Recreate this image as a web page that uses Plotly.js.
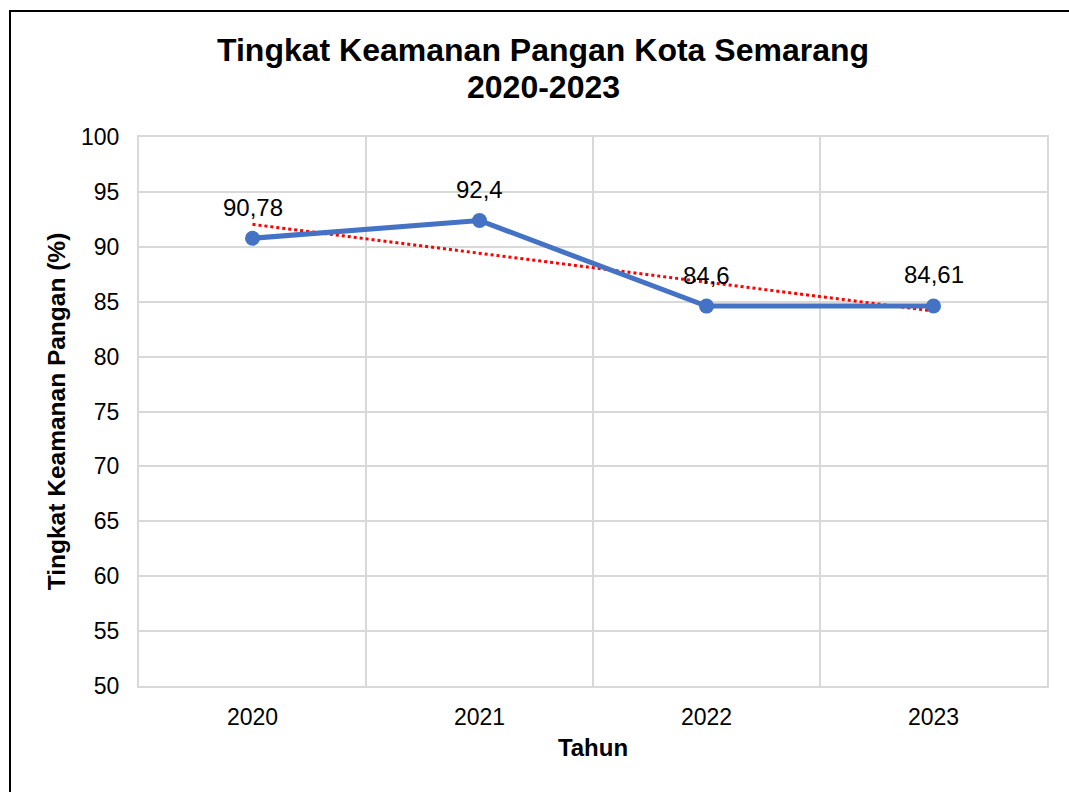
<!DOCTYPE html>
<html>
<head>
<meta charset="utf-8">
<script src="https://cdn.plot.ly/plotly-3.0.1.min.js"></script>
<style>
html,body{margin:0;padding:0;background:#fff;}
#wrap{position:relative;width:1069px;height:792px;overflow:hidden;}
#chart{position:absolute;left:0;top:0;width:1069px;height:792px;}
#frame{position:absolute;left:9px;top:10px;width:1200px;height:900px;border-left:2px solid #000;border-top:2px solid #000;pointer-events:none;}
</style>
</head>
<body>
<div id="wrap"><div id="chart"></div><div id="frame"></div></div>
<script>
const years = ['2020', '2021', '2022', '2023'];
const values = [90.78, 92.4, 84.6, 84.61];
const yTicks = [50, 55, 60, 65, 70, 75, 80, 85, 90, 95, 100];
const titleLines = ['Tingkat Keamanan Pangan Kota Semarang', '2020-2023'];

// linear trendline (least squares) computed from the data
const n = values.length;
const xs = values.map((_, i) => i + 1);
const mx = xs.reduce((a, b) => a + b, 0) / n;
const my = values.reduce((a, b) => a + b, 0) / n;
let sxy = 0, sxx = 0;
xs.forEach((x, i) => { sxy += (x - mx) * (values[i] - my); sxx += (x - mx) * (x - mx); });
const slope = sxy / sxx;
const trend = xs.map(x => my + slope * (x - mx));

const font = '"Liberation Sans", Arial, sans-serif';
const labels = values.map(v => String(v).replace('.', ','));

const data = [
  {
    x: years, y: trend, type: 'scatter', mode: 'lines',
    line: {color: '#FF0000', width: 3, dash: 'dot'},
    hoverinfo: 'skip', showlegend: false
  },
  {
    x: years, y: values, type: 'scatter', mode: 'lines+markers',
    line: {color: '#4472C4', width: 5},
    marker: {color: '#4472C4', size: 15},
    showlegend: false
  }
];

const annotations = years.map((yr, i) => ({
  x: i, y: values[i], xref: 'x', yref: 'y',
  text: labels[i], showarrow: false, yshift: 31,
  font: {family: font, size: 24, color: '#000'}
}));

// title lines (plot area: left 139px, width 908px; top 137px, height 549px)
const titleY = [1.1585, 1.0911];
titleLines.forEach((t, i) => {
  annotations.push({
    xref: 'paper', yref: 'paper', x: 0.445, y: titleY[i],
    xanchor: 'center', yanchor: 'middle', showarrow: false,
    text: '<b>' + t + '</b>',
    font: {family: font, size: 32, color: '#000'}
  });
});

const layout = {
  width: 1069, height: 792,
  margin: {l: 139, r: 22, t: 137, b: 106},
  paper_bgcolor: '#fff', plot_bgcolor: '#fff',
  xaxis: {
    type: 'category', tickson: 'boundaries',
    range: [-0.5, 3.5],
    showgrid: true, gridcolor: '#d9d9d9', gridwidth: 2,
    showline: true, linecolor: '#d9d9d9', linewidth: 2, mirror: true,
    ticks: '', zeroline: false,
    tickfont: {family: font, size: 23, color: '#000'},
    ticklabelstandoff: 9,
    title: {text: '<b>Tahun</b>', font: {family: font, size: 24, color: '#000'}, standoff: 11}
  },
  yaxis: {
    range: [50, 100], tickvals: yTicks, ticktext: yTicks.map(String),
    showgrid: true, gridcolor: '#d9d9d9', gridwidth: 2,
    showline: true, linecolor: '#d9d9d9', linewidth: 2, mirror: true,
    ticks: '', zeroline: false,
    tickfont: {family: font, size: 23, color: '#000'},
    ticklabelstandoff: 13,
    title: {text: '<b>Tingkat Keamanan Pangan (%)</b>', font: {family: font, size: 24.5, color: '#000'}, standoff: 8}
  },
  annotations: annotations
};

Plotly.newPlot('chart', data, layout, {displayModeBar: false, staticPlot: true});
</script>
</body>
</html>
